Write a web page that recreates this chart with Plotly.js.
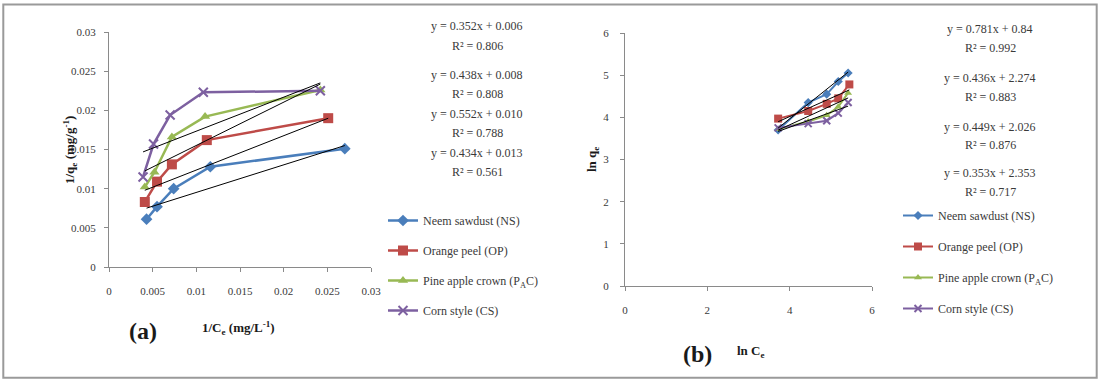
<!DOCTYPE html>
<html>
<head>
<meta charset="utf-8">
<script src="https://cdn.plot.ly/plotly-3.0.1.min.js"></script>
<style>html,body{margin:0;padding:0;background:#fff;}#chart{width:1100px;height:380px;}</style>
</head>
<body>
<div id="chart"></div>
<script>
// ---- data ----
const seriesNames = ["Neem sawdust (NS)", "Orange peel (OP)", "Pine apple crown (P<sub>A</sub>C)", "Corn style (CS)"];

// Panel (a): 1/Ce vs 1/qe
const invCe_NS = [0.0043, 0.0055, 0.0074, 0.0116, 0.0270];
const invQe_NS = [0.0061, 0.0077, 0.0100, 0.0128, 0.0151];
const invCe_OP = [0.0041, 0.0055, 0.0072, 0.0112, 0.0251];
const invQe_OP = [0.0083, 0.0109, 0.0131, 0.0162, 0.0190];
const invCe_PAC = [0.0041, 0.0052, 0.0072, 0.0110, 0.0242];
const invQe_PAC = [0.0102, 0.0121, 0.0166, 0.0192, 0.0226];
const invCe_CS = [0.0039, 0.0051, 0.0070, 0.0108, 0.0242];
const invQe_CS = [0.0115, 0.0157, 0.0194, 0.0223, 0.0225];

// Panel (b): ln Ce vs ln qe
const lnCe_NS = [3.72, 4.45, 4.90, 5.18, 5.42];
const lnQe_NS = [3.70, 4.35, 4.55, 4.85, 5.05];
const lnCe_OP = [3.72, 4.45, 4.90, 5.18, 5.45];
const lnQe_OP = [3.97, 4.15, 4.32, 4.45, 4.78];
const lnCe_PAC = [3.72, 4.45, 4.90, 5.18, 5.42];
const lnQe_PAC = [3.72, 3.90, 4.05, 4.25, 4.58];
const lnCe_CS = [3.72, 4.45, 4.90, 5.18, 5.42];
const lnQe_CS = [3.75, 3.85, 3.92, 4.10, 4.35];

// Trendline coefficients (from the equations on the chart)
const slopeA = [0.352, 0.438, 0.552, 0.434];
const interceptA = [0.006, 0.008, 0.010, 0.013];
const r2A = ["0.806", "0.808", "0.788", "0.561"];
const slopeB = [0.781, 0.436, 0.449, 0.353];
const interceptB = [0.84, 2.274, 2.026, 2.353];
const r2B = ["0.992", "0.883", "0.876", "0.717"];
const eqA = ["y = 0.352x + 0.006", "y = 0.438x + 0.008", "y = 0.552x + 0.010", "y = 0.434x + 0.013"];
const eqB = ["y = 0.781x + 0.84", "y = 0.436x + 2.274", "y = 0.449x + 2.026", "y = 0.353x + 2.353"];

const xTicksA = [0, 0.005, 0.01, 0.015, 0.02, 0.025, 0.03];
const yTicksA = [0, 0.005, 0.01, 0.015, 0.02, 0.025, 0.03];
const xTicksB = [0, 2, 4, 6];
const yTicksB = [0, 1, 2, 3, 4, 5, 6];

// ---- styles ----
const colors = ["#4a7ebb", "#be4b48", "#98b954", "#7d60a0"];
const symbols = ["diamond", "square", "triangle-up", "x-thin"];
const FONT = "Liberation Serif";
const TXT = "#3a3a3a";

const dataA = [[invCe_NS, invQe_NS], [invCe_OP, invQe_OP], [invCe_PAC, invQe_PAC], [invCe_CS, invQe_CS]];
const dataB = [[lnCe_NS, lnQe_NS], [lnCe_OP, lnQe_OP], [lnCe_PAC, lnQe_PAC], [lnCe_CS, lnQe_CS]];

const traces = [];
function addPanel(data, slopes, ints, xa, ya, leg, msize, lw) {
  data.forEach((d, i) => {
    traces.push({
      x: d[0], y: d[1], xaxis: xa, yaxis: ya, legend: leg,
      type: "scatter", mode: "lines+markers", name: seriesNames[i],
      legendgroup: leg + i,
      line: {color: colors[i], width: lw},
      marker: {symbol: symbols[i], size: msize[i], color: colors[i],
               line: {color: colors[i], width: symbols[i] === "x-thin" ? 2 : 0}}
    });
  });
  data.forEach((d, i) => {
    const x0 = Math.min(...d[0]), x1 = Math.max(...d[0]);
    traces.push({
      x: [x0, x1], y: [slopes[i] * x0 + ints[i], slopes[i] * x1 + ints[i]],
      xaxis: xa, yaxis: ya, type: "scatter", mode: "lines", showlegend: false,
      line: {color: "#000000", width: 1}, hoverinfo: "skip"
    });
  });
}
addPanel(dataA, slopeA, interceptA, "x", "y", "legend", [9, 10, 9, 9], 2.5);
addPanel(dataB, slopeB, interceptB, "x2", "y2", "legend2", [7, 8, 7, 7], 2);

function axis(extra) {
  return Object.assign({
    showgrid: false, zeroline: false, showline: true, linecolor: "#8a8a8a", linewidth: 1,
    ticks: "outside", ticklen: 4, tickcolor: "#8a8a8a",
    tickfont: {family: FONT, size: 11, color: TXT}, fixedrange: true
  }, extra);
}

const annotations = [];
function eqAnn(eqs, r2s, xc, ys) {
  eqs.forEach((e, i) => {
    annotations.push({xref: "paper", yref: "paper", x: xc / 1100, y: 1 - ys[2 * i] / 380,
      text: e, showarrow: false, xanchor: "center", yanchor: "middle",
      font: {family: FONT, size: 12, color: TXT}});
    annotations.push({xref: "paper", yref: "paper", x: xc / 1100, y: 1 - ys[2 * i + 1] / 380,
      text: "R² = " + r2s[i], showarrow: false, xanchor: "center", yanchor: "middle",
      font: {family: FONT, size: 12, color: TXT}});
  });
}
eqAnn(eqA, r2A, 477, [26, 46, 75, 94, 114, 133, 153, 172]);
eqAnn(eqB, r2B, 990, [29, 48, 78, 97, 127, 145, 173, 192]);

function txt(text, x, y, size, extra) {
  annotations.push(Object.assign({xref: "paper", yref: "paper", x: x / 1100, y: 1 - y / 380,
    text: text, showarrow: false, xanchor: "center", yanchor: "middle",
    font: {family: FONT, size: size, color: "#1a1a1a"}}, extra || {}));
}
txt("<b>(a)</b>", 143, 331, 24);
txt("<b>1/C<sub>e</sub> (mg/L<sup>-1</sup>)</b>", 238, 328, 13);
txt("<b>(b)</b>", 697, 354, 24);
txt("<b>ln C<sub>e</sub></b>", 751, 351, 13);
txt("<b>1/q<sub>e</sub> (mg/g<sup>-1</sup>)</b>", 70, 150, 13, {textangle: -90});
txt("<b>ln q<sub>e</sub></b>", 592, 160, 13, {textangle: -90});

const legendBase = {
  font: {family: FONT, size: 12, color: TXT}, bgcolor: "rgba(0,0,0,0)",
  traceorder: "grouped", tracegroupgap: 11, itemwidth: 30,
  xanchor: "left", yanchor: "top", orientation: "v"
};

const layout = {
  width: 1100, height: 380,
  margin: {l: 0, r: 0, t: 0, b: 0},
  font: {family: FONT, color: TXT},
  paper_bgcolor: "#ffffff", plot_bgcolor: "#ffffff",
  showlegend: true,
  xaxis: axis({domain: [109 / 1100, 371 / 1100], range: [0, 0.03], tickvals: xTicksA, anchor: "y", ticklabelstandoff: 10}),
  yaxis: axis({domain: [1 - 267 / 380, 1 - 32 / 380], range: [0, 0.03], tickvals: yTicksA, anchor: "x", ticklabelstandoff: 6}),
  xaxis2: axis({domain: [625 / 1100, 872 / 1100], range: [0, 6], tickvals: xTicksB, anchor: "y2", ticklabelstandoff: 10}),
  yaxis2: axis({domain: [1 - 286 / 380, 1 - 33 / 380], range: [0, 6], tickvals: yTicksB, anchor: "x2", ticklabelstandoff: 9}),
  legend: Object.assign({}, legendBase, {x: 383 / 1100, y: 1 - 206 / 380}),
  legend2: Object.assign({}, legendBase, {x: 898 / 1100, y: 1 - 201 / 380, tracegroupgap: 12}),
  annotations: annotations,
  shapes: [{type: "rect", xref: "paper", yref: "paper", x0: 0.003, x1: 0.997, y0: 0.006, y1: 0.988,
            line: {color: "#9a9a9a", width: 2}, fillcolor: "rgba(0,0,0,0)"}]
};

Plotly.newPlot("chart", traces, layout, {displayModeBar: false, staticPlot: true});
</script>
</body>
</html>
